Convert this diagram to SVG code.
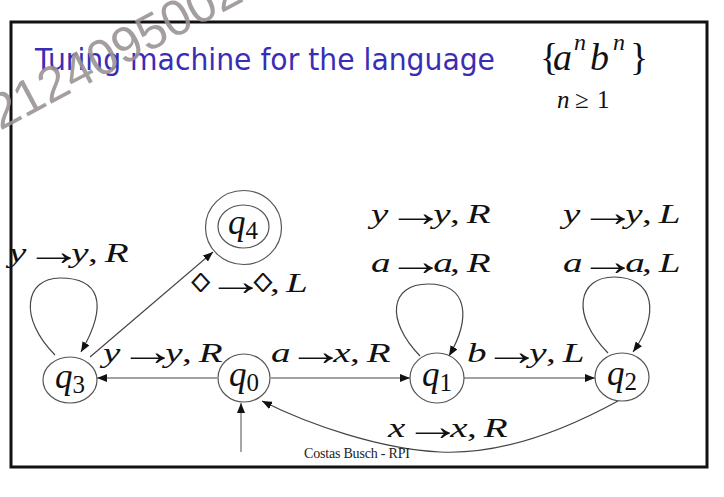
<svg xmlns="http://www.w3.org/2000/svg" width="724" height="497" viewBox="0 0 724 497">
<defs>
<marker id="ah" viewBox="0 0 10 8" refX="10" refY="4" markerWidth="10" markerHeight="8" markerUnits="userSpaceOnUse" orient="auto">
<path d="M0,0 L10,4 L0,8 z" fill="#111"/>
</marker>
<style>
.node{fill:none;stroke:#555;stroke-width:1.2}
.edge{fill:none;stroke:#444;stroke-width:1.2}
.lab{font-family:"Liberation Serif","Times New Roman",serif;font-size:27px;fill:#111}
.arr{font-family:"Liberation Serif","Times New Roman",serif;font-size:40px;font-style:normal}
.ql{font-family:"Liberation Serif","Times New Roman",serif;font-size:35px;fill:#111}
.i{font-style:italic}
.title{font-family:"DejaVu Sans","Open Sans",sans-serif;font-size:30px;fill:#3a2db5}
.math{font-family:"Liberation Serif","Times New Roman",serif;fill:#111}
</style>
</defs>
<rect width="724" height="497" fill="#fff"/>
<rect x="11" y="22" width="696" height="445" fill="none" stroke="#111" stroke-width="3"/>

<text class="title" x="35" y="70" textLength="460" lengthAdjust="spacingAndGlyphs">Turing machine for the language</text>

<g id="language">
<text class="math" font-size="38" y="70"><tspan x="540">{</tspan><tspan class="i" x="553">a</tspan><tspan class="i" x="574" y="50" font-size="24">n</tspan><tspan class="i" x="590" y="70">b</tspan><tspan class="i" x="613" y="50" font-size="24">n</tspan><tspan x="630" y="70">}</tspan></text>
<text class="math" font-size="25" y="108"><tspan class="i" x="557">n</tspan><tspan x="575">≥</tspan><tspan x="597">1</tspan></text>
</g>

<g id="edges">
<line class="edge" x1="217" y1="378" x2="97" y2="378" marker-end="url(#ah)"/>
<line class="edge" x1="271" y1="378" x2="410" y2="378" marker-end="url(#ah)"/>
<line class="edge" x1="464" y1="378" x2="595" y2="378" marker-end="url(#ah)"/>
<line class="edge" x1="90" y1="357" x2="213" y2="252" marker-end="url(#ah)"/>
<path class="edge" d="M55,355 C18,318 25,278 60,278 C98,278 110,302 81,352" marker-end="url(#ah)"/>
<path class="edge" d="M420,356 C385,320 390,284 428,284 C470,284 470,320 449,356" marker-end="url(#ah)"/>
<path class="edge" d="M608,353 C570,315 578,277 614,277 C655,277 660,315 633,352" marker-end="url(#ah)"/>
<path class="edge" d="M618,401 C565,430 500,455 440,452 C380,449 310,425 262,401" marker-end="url(#ah)"/>
<line x1="241" y1="452" x2="241" y2="403" stroke="#888" stroke-width="1.5" marker-end="url(#ah)"/>
</g>

<g id="q3">
<ellipse class="node" cx="70" cy="380" rx="27" ry="23"/>
<text class="ql" x="70" y="388" text-anchor="middle"><tspan class="i">q</tspan><tspan font-size="25" dy="5">3</tspan></text>
</g>
<g id="q0">
<ellipse class="node" cx="244" cy="378" rx="26" ry="24"/>
<text class="ql" x="244" y="386" text-anchor="middle"><tspan class="i">q</tspan><tspan font-size="25" dy="5">0</tspan></text>
</g>
<g id="q1">
<ellipse class="node" cx="437" cy="378" rx="27" ry="25"/>
<text class="ql" x="437" y="386" text-anchor="middle"><tspan class="i">q</tspan><tspan font-size="25" dy="5">1</tspan></text>
</g>
<g id="q2">
<ellipse class="node" cx="622" cy="377" rx="27" ry="24"/>
<text class="ql" x="622" y="385" text-anchor="middle"><tspan class="i">q</tspan><tspan font-size="25" dy="5">2</tspan></text>
</g>
<g id="q4">
<ellipse class="node" cx="243.5" cy="227.5" rx="38" ry="37"/>
<ellipse class="node" cx="243.5" cy="226.5" rx="25.5" ry="21.5"/>
<text class="ql" x="243" y="234" text-anchor="middle"><tspan class="i">q</tspan><tspan font-size="25" dy="5">4</tspan></text>
</g>

<g id="labels">
<text class="lab" transform="translate(9,262) scale(1.45,1)"><tspan class="i" x="0">y</tspan><tspan class="arr" x="11" y="3">→</tspan><tspan class="i" x="43" y="0">y</tspan><tspan x="54.5">,</tspan><tspan class="i" x="66">R</tspan></text>
<text class="lab" transform="translate(191,292) scale(1.45,1)"><tspan x="0">◊</tspan><tspan class="arr" x="11" y="3">→</tspan><tspan x="43" y="0">◊</tspan><tspan x="54.5">,</tspan><tspan class="i" x="65.5">L</tspan></text>
<text class="lab" transform="translate(103,362) scale(1.45,1)"><tspan class="i" x="0">y</tspan><tspan class="arr" x="11" y="3">→</tspan><tspan class="i" x="43" y="0">y</tspan><tspan x="54.5">,</tspan><tspan class="i" x="66">R</tspan></text>
<text class="lab" transform="translate(271,362) scale(1.45,1)"><tspan class="i" x="0">a</tspan><tspan class="arr" x="11" y="3">→</tspan><tspan class="i" x="43" y="0">x</tspan><tspan x="54.5">,</tspan><tspan class="i" x="66">R</tspan></text>
<text class="lab" transform="translate(467,362) scale(1.45,1)"><tspan class="i" x="0">b</tspan><tspan class="arr" x="11" y="3">→</tspan><tspan class="i" x="43" y="0">y</tspan><tspan x="54.5">,</tspan><tspan class="i" x="66">L</tspan></text>
<text class="lab" transform="translate(371,223) scale(1.45,1)"><tspan class="i" x="0">y</tspan><tspan class="arr" x="11" y="3">→</tspan><tspan class="i" x="43" y="0">y</tspan><tspan x="54.5">,</tspan><tspan class="i" x="66">R</tspan></text>
<text class="lab" transform="translate(371,272) scale(1.45,1)"><tspan class="i" x="0">a</tspan><tspan class="arr" x="11" y="3">→</tspan><tspan class="i" x="43" y="0">a</tspan><tspan x="54.5">,</tspan><tspan class="i" x="66">R</tspan></text>
<text class="lab" transform="translate(563,223) scale(1.45,1)"><tspan class="i" x="0">y</tspan><tspan class="arr" x="11" y="3">→</tspan><tspan class="i" x="43" y="0">y</tspan><tspan x="54.5">,</tspan><tspan class="i" x="66">L</tspan></text>
<text class="lab" transform="translate(563,272) scale(1.45,1)"><tspan class="i" x="0">a</tspan><tspan class="arr" x="11" y="3">→</tspan><tspan class="i" x="43" y="0">a</tspan><tspan x="54.5">,</tspan><tspan class="i" x="66">L</tspan></text>
<text class="lab" transform="translate(388,437) scale(1.45,1)"><tspan class="i" x="0">x</tspan><tspan class="arr" x="11" y="3">→</tspan><tspan class="i" x="43" y="0">x</tspan><tspan x="54.5">,</tspan><tspan class="i" x="66">R</tspan></text>
</g>

<text x="304" y="458" font-family="Liberation Serif, serif" font-size="14" fill="#222" textLength="106">Costas Busch - RPI</text>

<text x="0" y="131" transform="rotate(-28 0 131)" font-family="Liberation Sans, Arial, sans-serif" font-size="50" fill="#9a9494" fill-opacity="0.9">2124095002</text>
</svg>
